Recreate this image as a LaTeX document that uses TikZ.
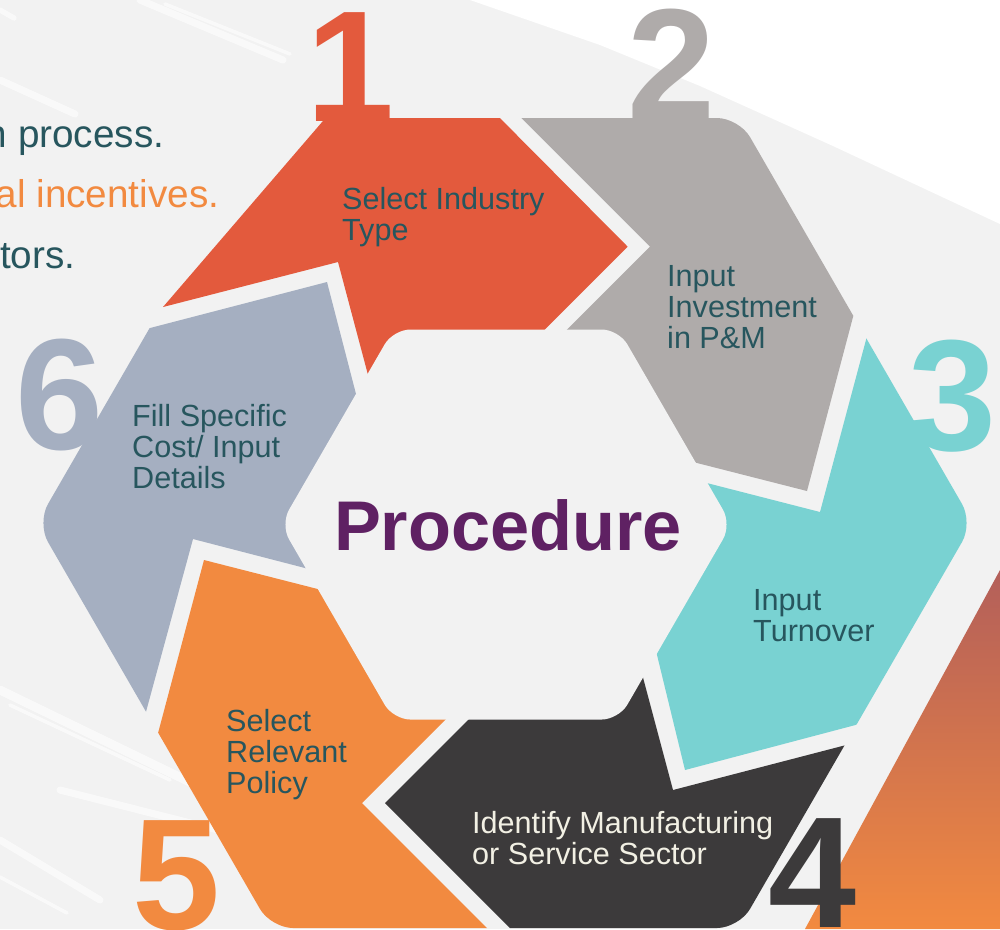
\documentclass[tikz,border=0pt]{standalone}
\usepackage{fontspec}
\setmainfont{Liberation Sans}
\usepackage{xcolor}
\usepackage{tikz}
\definecolor{bggray}{HTML}{F2F2F2}
\definecolor{stepred}{HTML}{E35A3D}
\definecolor{stepgray}{HTML}{AFABAA}
\definecolor{stepteal}{HTML}{79D2D2}
\definecolor{stepdark}{HTML}{3C3A3B}
\definecolor{steporange}{HTML}{F28A40}
\definecolor{stepblue}{HTML}{A5AFC1}
\definecolor{labelteal}{HTML}{27565E}
\definecolor{procpurple}{HTML}{5F2163}
\definecolor{creamtext}{HTML}{F2F0E4}
\definecolor{brickred}{HTML}{B35F5A}

\begin{document}
\begin{tikzpicture}[x=0.01cm,y=-0.01cm,
    steplabel/.style={anchor=base west,inner sep=0pt,align=left,text=labelteal,font=\fontsize{8.7}{8.8}\selectfont},
    bignum/.style={anchor=base,inner sep=0pt,font=\fontsize{45}{45}\selectfont\bfseries},
    sidetext/.style={anchor=base east,inner sep=0pt,font=\fontsize{11}{13}\selectfont},
    streak/.style={white,line cap=round,opacity=0.6}]
  \useasboundingbox (0,0) rectangle (1000,929);
  \fill[bggray] (0,0) rectangle (1000,929);
  \fill[white] (470,0) -- (1000,0) -- (1000,224) -- (940,196) -- (833,146) -- (700,86) -- (600,45) -- cycle;
  % brush marks
  \draw[streak,line width=2pt] (140,0) -- (283,60);
  \draw[streak,line width=1pt] (165,4) -- (290,54);
  \draw[streak,line width=2pt] (0,80) -- (75,114);
  \draw[streak,line width=1.5pt] (0,10) -- (14,18);
  \draw[streak,line width=2.5pt] (0,690) -- (200,787);
  \draw[streak,line width=1pt] (10,705) -- (170,780);
  \draw[streak,line width=2pt] (60,790) -- (230,833);
  \draw[streak,line width=2pt] (0,840) -- (100,900);
  \draw[streak,line width=1pt] (0,877) -- (67,913);
  \shade[top color=brickred,bottom color=steporange] (1000,570) -- (805,929) -- (1000,929) -- cycle;

  % outer and inner hexagon
  \coordinate (o0) at (856,320.5);
  \coordinate (o1) at (973,523);
  \coordinate (o2) at (739,928);
  \coordinate (o3) at (271,928);
  \coordinate (o4) at (37,523);
  \coordinate (o5) at (271,118);
  \coordinate (o6) at (739,118);
  \coordinate (i0) at (506,329.5);
  \coordinate (i1) at (618.75,329.5);
  \coordinate (i2) at (731.5,524.5);
  \coordinate (i3) at (618.75,719.5);
  \coordinate (i4) at (393.25,719.5);
  \coordinate (i5) at (280.5,524.5);
  \coordinate (i6) at (393.25,329.5);
  \def\ringpath{(o0) -- (o1) -- (o2) -- (o3) -- (o4) -- (o5) -- (o6) -- cycle}

  \begin{scope}
    \clip (341,100) -- (482,100) -- (627.7,246.7) -- (527.7,346.7) -- (380,420) -- (338,262) -- (163,307) -- cycle;
    \fill[stepred,rounded corners=2.2mm] \ringpath;
  \end{scope}
  \begin{scope}
    \clip (493.3,90) -- (913,90) -- (807,491) -- (650,451) -- (540,356.7) -- (650,246.7) -- cycle;
    \fill[stepgray,rounded corners=2.2mm] \ringpath;
  \end{scope}
  \begin{scope}
    \clip (820,512) -- (890,250) -- (1050,250) -- (1050,673.6) -- (685,770) -- (648.5,620) -- (660,471) -- cycle;
    \fill[stepteal,rounded corners=2.2mm] \ringpath;
  \end{scope}
  \begin{scope}
    \clip (673,790) -- (1000,705) -- (1000,980) -- (562,980) -- (385,803) -- (500,688) -- (633,640) -- cycle;
    \fill[stepdark,rounded corners=2.2mm] \ringpath;
  \end{scope}
  \begin{scope}
    \clip (204,560) -- (92.5,980) -- (539,980) -- (362,803) -- (470,695) -- (400,610) -- cycle;
    \fill[steporange,rounded corners=2.2mm] \ringpath;
  \end{scope}
  \begin{scope}
    \clip (327,282) -- (-50,380) -- (-50,800) -- (122,800) -- (193,539) -- (400,592.6) -- (370.5,450) -- cycle;
    \fill[stepblue,rounded corners=2.2mm] \ringpath;
  \end{scope}
  \fill[bggray,rounded corners=1.7mm] (i0) -- (i1) -- (i2) -- (i3) -- (i4) -- (i5) -- (i6) -- cycle;

  \node[bignum,text=stepred] (num1) at (351,121) {1};
  \node[bignum,text=stepgray] (num2) at (671,119) {2};
  \node[bignum,text=stepteal] (num3) at (952,450) {3};
  \node[bignum,text=stepdark] (num4) at (812,927) {4};
  \node[bignum,text=steporange] (num5) at (177,929) {5};
  \node[bignum,text=stepblue] (num6) at (60,449) {6};

  \node[sidetext,text=labelteal] (side1) at (165,147) {n process.};
  \node[sidetext,text=steporange] (side2) at (220,207) {al incentives.};
  \node[sidetext,text=labelteal] (side3) at (76,268) {tors.};

  \node[anchor=base,inner sep=0pt,text=procpurple,font=\fontsize{20}{20}\selectfont\bfseries] (proc) at (508,550) {Procedure};

  % base of a multi-line node is its last line
  \node[steplabel] (lab1) at (341.5,240) {Select Industry\\Type};
  \node[steplabel] (lab2) at (666.5,348) {Input\\Investment\\in P\&M};
  \node[steplabel] (lab3) at (752.5,641) {Input\\Turnover};
  \node[steplabel,text=creamtext] (lab4) at (471.5,864) {Identify Manufacturing\\or Service Sector};
  \node[steplabel] (lab5) at (225.5,793) {Select\\Relevant\\Policy};
  \node[steplabel] (lab6) at (131.5,488) {Fill Specific\\Cost/ Input\\Details};
\end{tikzpicture}
\end{document}
